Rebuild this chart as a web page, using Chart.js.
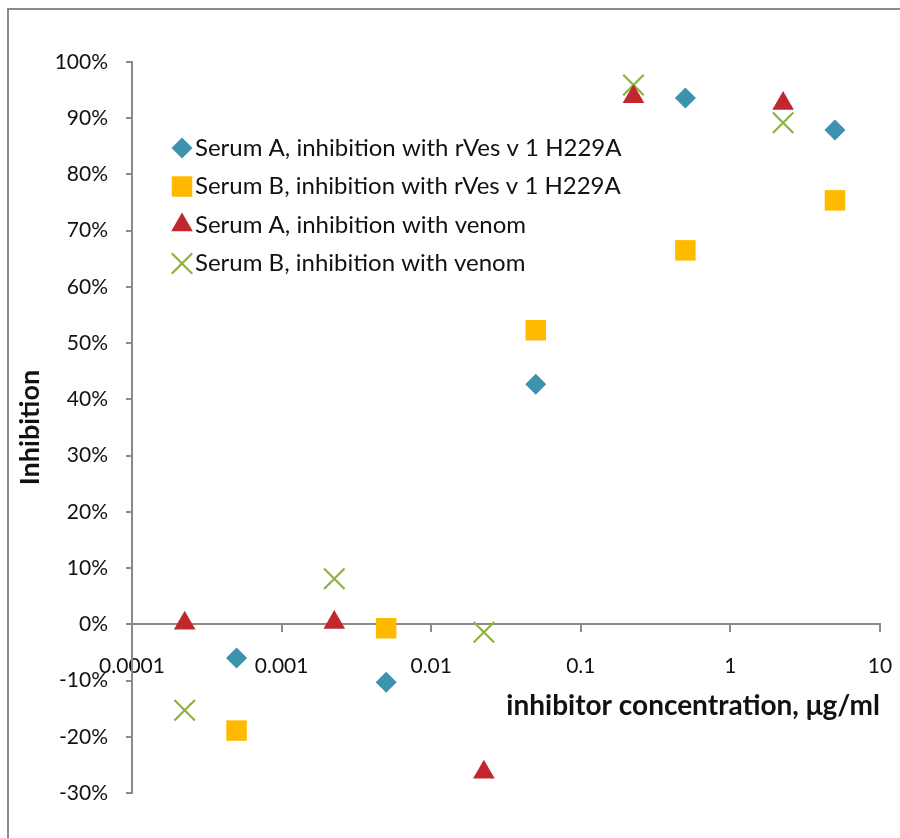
<!DOCTYPE html>
<html>
<head>
<meta charset="utf-8">
<title>Inhibition</title>
<script src="https://cdn.jsdelivr.net/npm/chart.js"></script>
<style>
  html, body { margin: 0; padding: 0; background: #fff; overflow: hidden; }
  #wrap { position: relative; width: 900px; height: 838px; overflow: hidden; }
  #frame { position: absolute; left: 7px; top: 8px; width: 1000px; height: 1000px; border: 2px solid #8a8a8a; }
  canvas { position: absolute; left: 0; top: 0; }
</style>
</head>
<body>
<div id="wrap">
  <div id="frame"></div>
  <canvas id="chart" width="900" height="838"></canvas>
</div>
<script>
// axes
const xTicks = [0.0001, 0.001, 0.01, 0.1, 1, 10];
const xTickLabels = ['0.0001', '0.001', '0.01', '0.1', '1', '10'];
const yMin = -30;
const yMax = 100;
const yStep = 10;

// series (inhibition in %)
const seriesNames = [
  'Serum A, inhibition with rVes v 1 H229A',
  'Serum B, inhibition with rVes v 1 H229A',
  'Serum A, inhibition with venom',
  'Serum B, inhibition with venom'
];
const rvesConc = [0.0005, 0.005, 0.05, 0.5, 5];
const venomConc = [0.000225, 0.00225, 0.0225, 0.225, 2.25];
const serumARves = [-6.0, -10.3, 42.7, 93.6, 87.9];
const serumBRves = [-18.9, -0.7, 52.3, 66.5, 75.4];
const serumAVenom = [0.2, 0.3, -26.3, 93.8, 92.6];
const serumBVenom = [-15.3, 8.1, -1.4, 95.9, 89.2];

const axisGrey = '#8a8a8a';
const textCol = '#111';
const fontFam = 'Lato, "Open Sans", sans-serif';

const pts = (xs, ys) => xs.map((x, i) => ({ x: x, y: ys[i] }));

Chart.defaults.font.family = fontFam;
Chart.defaults.font.size = 21;
Chart.defaults.color = textCol;

// legend drawn inside the plot, upper left
const insideLegend = {
  id: 'insideLegend',
  afterDraw(chart) {
    const { ctx, chartArea } = chart;
    const mx = chartArea.left + 50;
    const tx = chartArea.left + 63;
    const y0 = chartArea.top + 86;
    const gap = 38.5;
    ctx.save();
    chart.data.datasets.forEach((ds, i) => {
      const y = y0 + i * gap;
      ctx.fillStyle = ds.backgroundColor;
      ctx.strokeStyle = ds.borderColor;
      ctx.lineWidth = ds.borderWidth;
      Chart.helpers.drawPoint(ctx, {
        pointStyle: ds.pointStyle,
        radius: ds.pointRadius,
        rotation: 0,
        borderWidth: ds.borderWidth
      }, mx, y);
      ctx.fillStyle = textCol;
      ctx.font = '24px ' + fontFam;
      ctx.textBaseline = 'middle';
      ctx.textAlign = 'left';
      ctx.fillText(ds.label, tx, y);
    });
    ctx.restore();
  }
};

new Chart(document.getElementById('chart'), {
  type: 'scatter',
  data: {
    datasets: [
      { label: seriesNames[0], data: pts(rvesConc, serumARves), pointStyle: 'rectRot', pointRadius: 10.5,
        backgroundColor: '#3C93AE', borderColor: '#3C93AE', borderWidth: 0 },
      { label: seriesNames[1], data: pts(rvesConc, serumBRves), pointStyle: 'rect', pointRadius: 14.5,
        backgroundColor: '#FFBA00', borderColor: '#FFBA00', borderWidth: 0 },
      { label: seriesNames[2], data: pts(venomConc, serumAVenom), pointStyle: 'triangle', pointRadius: 12.5,
        backgroundColor: '#C0282D', borderColor: '#C0282D', borderWidth: 0 },
      { label: seriesNames[3], data: pts(venomConc, serumBVenom), pointStyle: 'crossRot', pointRadius: 14.5,
        backgroundColor: '#8DB33F', borderColor: '#8DB33F', borderWidth: 2.2 }
    ]
  },
  options: {
    responsive: false,
    animation: false,
    events: [],
    layout: { padding: { left: 8, top: 62, right: 20, bottom: 45 } },
    plugins: { legend: { display: false }, tooltip: { enabled: false } },
    scales: {
      x: {
        type: 'logarithmic',
        min: xTicks[0],
        max: xTicks[xTicks.length - 1],
        position: { y: 0 },
        afterBuildTicks: s => { s.ticks = xTicks.map(v => ({ value: v })); },
        afterFit: s => { s.paddingLeft = 0; s.paddingRight = 0; },
        ticks: { callback: (v, i) => xTickLabels[i], padding: 22, autoSkip: false, maxRotation: 0 },
        grid: { drawOnChartArea: false, drawTicks: true, tickLength: 7, color: axisGrey, lineWidth: 2 },
        border: { display: true, color: axisGrey, width: 2 },
        title: { display: true, text: 'inhibitor concentration, μg/ml', align: 'end',
                 font: { size: 28, weight: 'bold' }, padding: { top: -11, bottom: 0 } }
      },
      y: {
        min: yMin,
        max: yMax,
        afterFit: s => { s.width = 124; s.paddingTop = 0; s.paddingBottom = 0; },
        ticks: { stepSize: yStep, callback: v => v + '%', padding: 18 },
        grid: { drawOnChartArea: false, drawTicks: true, tickLength: 6, color: axisGrey, lineWidth: 2 },
        border: { display: true, color: axisGrey, width: 2 },
        title: { display: true, text: 'Inhibition', font: { size: 27, weight: 'bold' }, padding: { top: 6 } }
      }
    }
  },
  plugins: [insideLegend]
});
</script>
</body>
</html>
